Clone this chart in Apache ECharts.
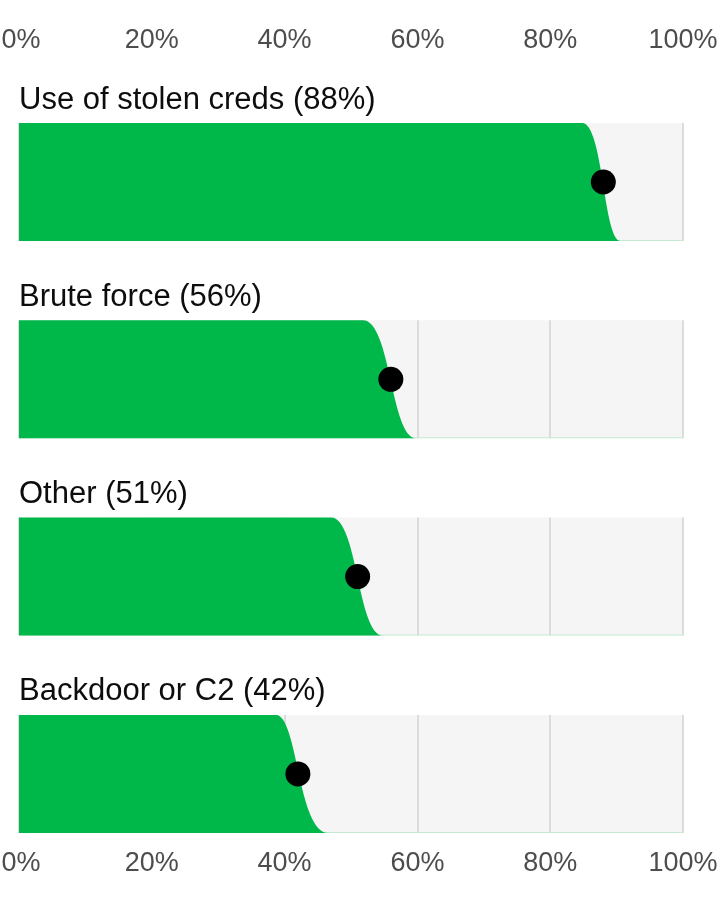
<!DOCTYPE html>
<html>
<head>
<meta charset="utf-8">
<style>
  html, body { margin: 0; padding: 0; background: #ffffff; }
  #chart { width: 720px; height: 900px; }
</style>
<script src="https://cdn.jsdelivr.net/npm/echarts@6/dist/echarts.min.js"></script>
</head>
<body>
<div id="chart"></div>
<script>
// ---- data ----
const categories = ['Use of stolen creds', 'Brute force', 'Other', 'Backdoor or C2'];
const values = [88, 56, 51, 42];          // point estimate (dot)
const lowEdge = [84.8, 51.8, 47.0, 38.7]; // where the fuzzy edge starts (top)
const highEdge = [90.6, 59.8, 54.8, 46.6]; // where the fuzzy edge ends (bottom)
const tickValues = [0, 20, 40, 60, 80, 100];
const tickLabels = ['0%', '20%', '40%', '60%', '80%', '100%'];

// ---- layout / style ----
const GREEN = '#00b84a';
const BG = '#f5f5f5';
const GRID_LINE = '#dcdcdc';
const LEFT = 19, RIGHT = 37, BAR_H = 118, FIRST_TOP = 123, STEP = 197.3;
const FONT = '"Liberation Sans", Arial, Helvetica, sans-serif';

const chart = echarts.init(document.getElementById('chart'), null, { renderer: 'canvas' });

const grids = [], xAxes = [], yAxes = [], series = [], titles = [];
categories.forEach((cat, i) => {
  const top = FIRST_TOP + i * STEP;
  grids.push({
    left: LEFT, right: RIGHT, top: top, height: BAR_H,
    show: true, backgroundColor: BG, borderWidth: 0,
    containLabel: false, outerBoundsMode: 'none'
  });
  const isTop = i === 0, isBottom = i === categories.length - 1;
  xAxes.push({
    gridIndex: i, type: 'value', min: 0, max: 100, interval: 20,
    position: isTop ? 'top' : 'bottom',
    axisLine: { show: false }, axisTick: { show: false },
    splitLine: { show: true, lineStyle: { color: GRID_LINE, width: 2 } },
    axisLabel: {
      show: isTop || isBottom,
      margin: isTop ? 69 : 17,
      color: '#4d4d4d', fontSize: 27, fontFamily: FONT,
      showMinLabel: true, showMaxLabel: true, hideOverlap: false,
      formatter: v => {
        const t = tickLabels[tickValues.indexOf(v)];
        return v === tickValues[0] ? '{z|' + t + '}' : t;
      },
      rich: { z: { color: '#4d4d4d', fontSize: 27, fontFamily: FONT, padding: [0, 0, 0, 4] } }
    }
  });
  yAxes.push({
    gridIndex: i, type: 'value', min: 0, max: 1, show: false
  });
  titles.push({
    text: cat + ' (' + values[i] + '%)',
    left: 19, top: top - 41, padding: 0,
    textStyle: { color: '#0d0d0d', fontSize: 31, fontWeight: 'normal', fontFamily: FONT, lineHeight: 36 }
  });
  series.push({
    type: 'custom',
    xAxisIndex: i, yAxisIndex: i,
    silent: true,
    data: [[values[i], lowEdge[i], highEdge[i]]],
    encode: { x: [0, 1, 2] },
    renderItem: function (params, api) {
      const v = api.value(0), lo = api.value(1), hi = api.value(2);
      const tl = api.coord([0, 1]);
      const bl = api.coord([0, 0]);
      const pLo = api.coord([lo, 1]);
      const c1 = api.coord([v, 1]);
      const c2 = api.coord([v, 0]);
      const pHi = api.coord([hi, 0]);
      const br = api.coord([100, 0]);
      const path = 'M' + tl[0] + ' ' + tl[1] +
        ' L' + pLo[0] + ' ' + pLo[1] +
        ' C' + c1[0] + ' ' + c1[1] + ' ' + c2[0] + ' ' + c2[1] + ' ' + pHi[0] + ' ' + pHi[1] +
        ' L' + bl[0] + ' ' + bl[1] + ' Z';
      return {
        type: 'group',
        children: [
          { type: 'rect', shape: { x: bl[0], y: bl[1] - 1, width: br[0] - bl[0], height: 1 },
            style: { fill: '#c4ebd2' } },
          { type: 'path', shape: { pathData: path }, style: { fill: GREEN } }
        ]
      };
    },
    z: 2
  });
  series.push({
    type: 'scatter',
    xAxisIndex: i, yAxisIndex: i,
    data: [[values[i], 0.5]],
    symbol: 'circle', symbolSize: 25,
    itemStyle: { color: '#000000', opacity: 1 },
    silent: true, z: 3
  });
});

chart.setOption({
  animation: false,
  backgroundColor: '#ffffff',
  title: titles,
  grid: grids,
  xAxis: xAxes,
  yAxis: yAxes,
  series: series
});
</script>
</body>
</html>
